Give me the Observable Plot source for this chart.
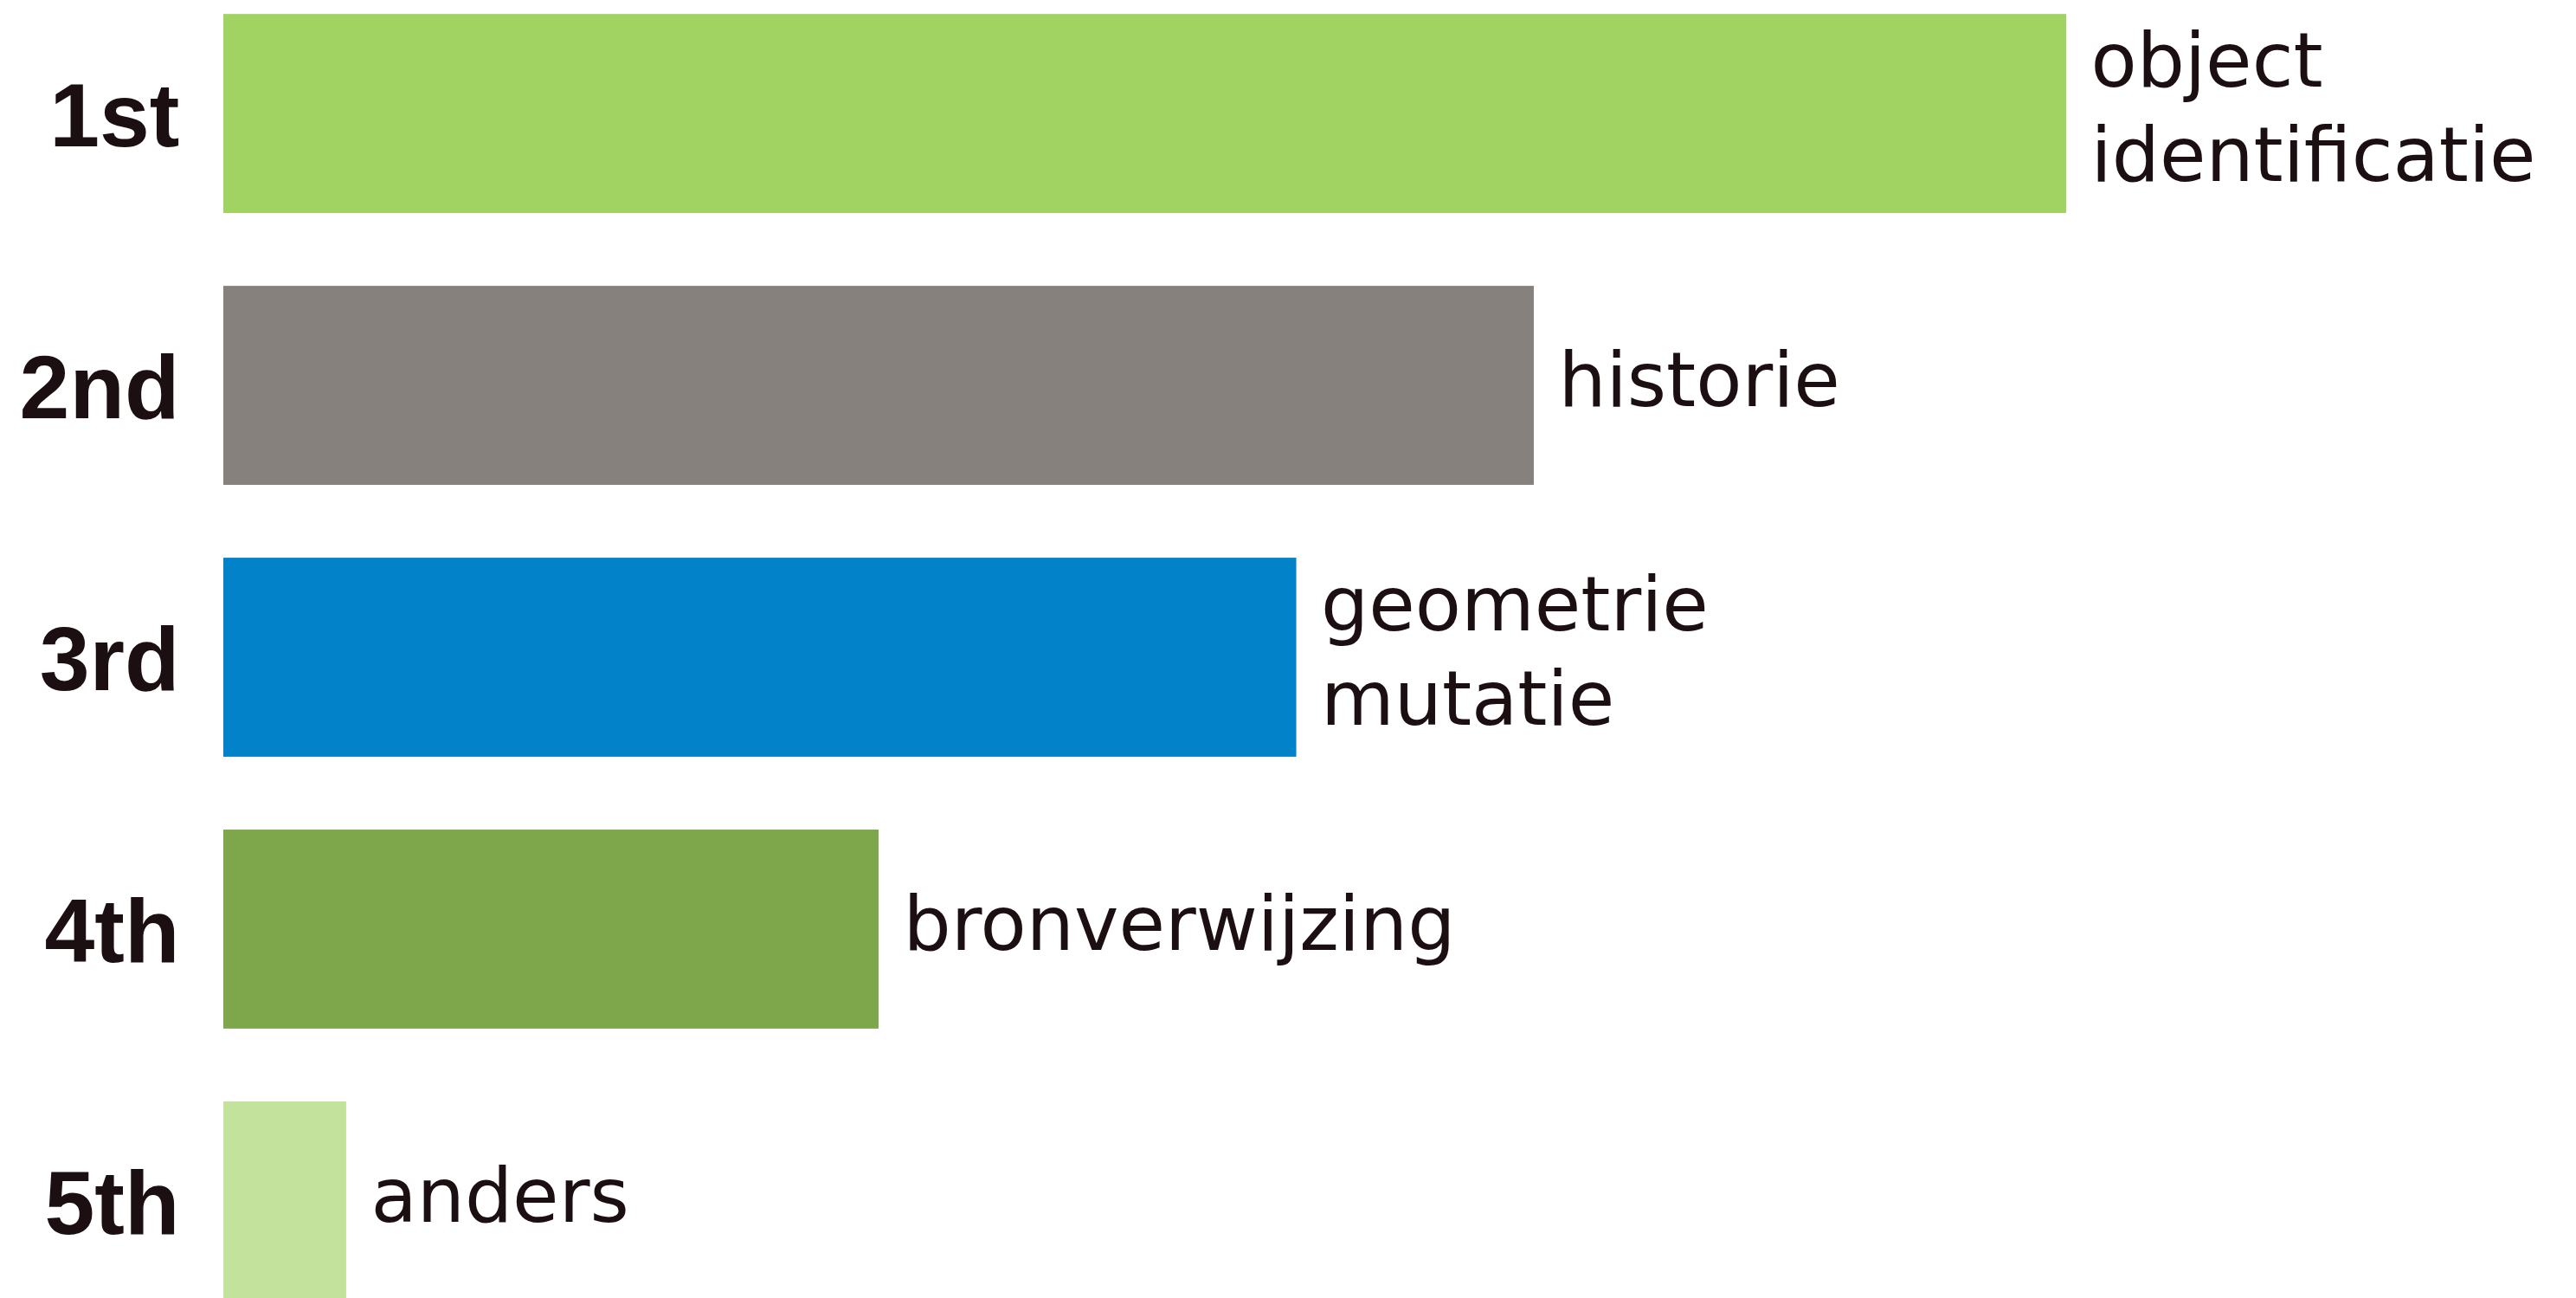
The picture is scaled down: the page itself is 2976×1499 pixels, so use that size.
<!DOCTYPE html>
<html>
<head>
<meta charset="utf-8">
<script src="https://cdn.jsdelivr.net/npm/d3@7"></script>
<script src="https://cdn.jsdelivr.net/npm/@observablehq/plot@0.6"></script>
<style>
  html, body { margin: 0; padding: 0; background: #ffffff; }
  #chart svg { display: block; }
</style>
</head>
<body>
<div id="chart"></div>
<script>
// Data
const ranks = ["1st", "2nd", "3rd", "4th", "5th"];
const categories = ["object\nidentificatie", "historie", "geometrie\nmutatie", "bronverwijzing", "anders"];
const values = [45, 32, 26.2, 16, 3];

// Palette (style, kept separate from the data)
const palette = ["#a1d363", "#86817c", "#0282c8", "#7ea64b", "#c3e29b"];

const table = ranks.map((r, i) => ({rank: r, category: categories[i], value: values[i]}));

const textColor = "#1c0f12";

const chart = Plot.plot({
  width: 2976,
  height: 1499,
  marginLeft: 258,
  marginRight: 589,
  marginTop: 0,
  marginBottom: 0,
  style: {background: "#ffffff", color: textColor, fontFamily: "'Liberation Sans', Arial, sans-serif"},
  x: {domain: [0, 45], axis: null},
  y: {domain: ranks, range: [-68, 1586], padding: 0.268, round: false, label: null},
  color: {domain: categories, range: palette},
  marks: [
    Plot.barX(table, {x: "value", y: "rank", fill: "category"}),
    Plot.axisY({
      tickSize: 0,
      tickPadding: 51,
      fontSize: 104,
      fontWeight: "bold",
      fontFamily: "'Liberation Sans', Arial, sans-serif",
      letterSpacing: "-3px",
      dy: 4,
      label: null
    }),
    Plot.text(table, {
      x: "value",
      y: "rank",
      text: "category",
      textAnchor: "start",
      lineAnchor: "middle",
      lineHeight: 1.26,
      dx: 28,
      dy: -12,
      fontSize: 87,
      fontFamily: "'DejaVu Sans', sans-serif",
      fill: textColor
    })
  ]
});

document.getElementById("chart").appendChild(chart);
</script>
</body>
</html>
